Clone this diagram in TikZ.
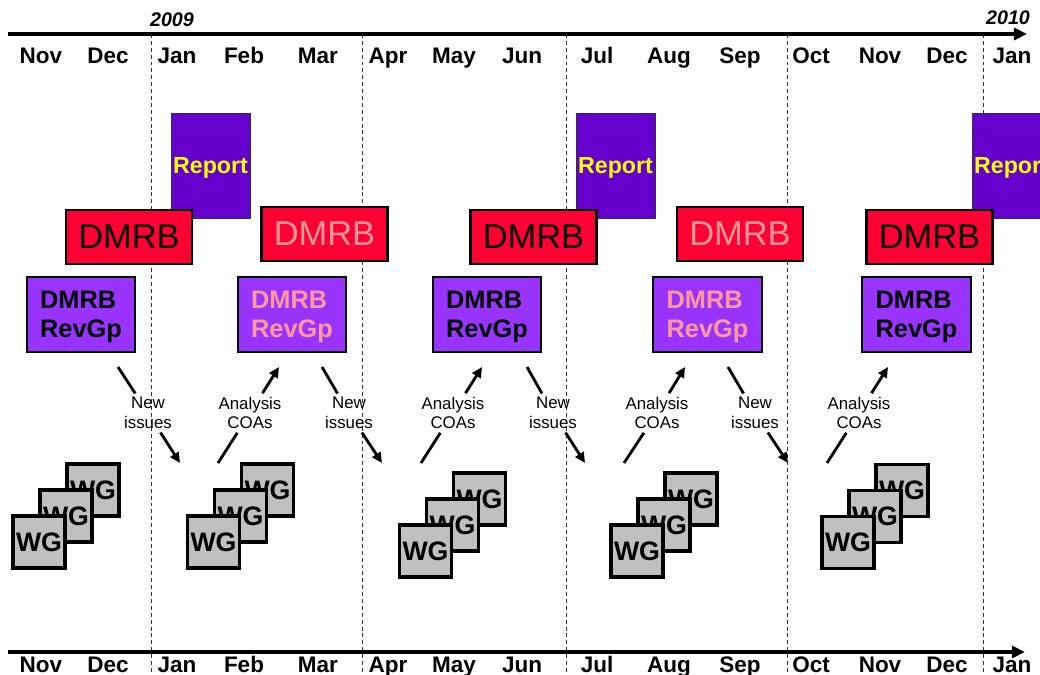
\documentclass[tikz,border=0pt]{standalone}
\usepackage{fontspec}
\setmainfont{Liberation Sans}
\usepackage{tikz}
\usetikzlibrary{arrows.meta}
\usepackage{xcolor}
\definecolor{boardred}{RGB}{255, 0, 51}
\definecolor{reportpurple}{RGB}{102, 0, 204}
\definecolor{revgpviolet}{RGB}{153, 51, 255}
\definecolor{softpink}{RGB}{255, 153, 153}
\definecolor{wggray}{RGB}{192, 192, 192}
\definecolor{reportyellow}{RGB}{255, 255, 0}

\begin{document}
\begin{tikzpicture}[x=0.025cm, y=-0.025cm, >={Triangle[length=2.6mm, width=2.4mm]},
  month/.style={anchor=base, font={\bfseries\fontsize{16}{19}\selectfont}},
  year/.style={anchor=base, font={\bfseries\itshape\fontsize{14}{17}\selectfont}},
  report/.style={draw=black!80, thin, fill=reportpurple, text=reportyellow, inner sep=0pt, text depth=0pt,
    minimum width=1.975cm, minimum height=2.625cm, font={\bfseries\fontsize{16.5}{20}\selectfont}},
  board/.style={draw=black, line width=1.5pt, fill=boardred, inner sep=0pt,
    minimum width=3.15cm, minimum height=1.33cm, font={\fontsize{24.5}{29}\selectfont}},
  revgp/.style={draw=black, line width=1.5pt, fill=revgpviolet, align=left, inner sep=0pt, text depth=0pt,
    minimum width=2.72cm, minimum height=1.88cm, font={\bfseries\fontsize{18}{20.5}\selectfont}},
  wg/.style={draw=black, line width=2.6pt, fill=wggray, inner sep=0pt,
    minimum size=1.3cm, font={\bfseries\fontsize{19}{22}\selectfont}},
  note/.style={align=center, inner sep=2.5pt, font={\fontsize{12}{14}\selectfont}},
  flow/.style={line width=2pt},
  axis/.style={line width=2.8pt, -{Triangle[length=3.3mm, width=3mm]}},
]

  \useasboundingbox (0,0) rectangle (1040,675);

  % quarter boundaries
  \foreach \x in {151,362,566,787,983}
    \draw[black!80, line width=0.7pt, dash pattern=on 2.8pt off 2.1pt] (\x,34) -- (\x,675);

  % time axes
  \draw[axis] (8,34) -- (1027,34);
  \draw[axis] (8,652) -- (1025,652);

  \node[year] (y2009) at (172,27) {2009};
  \node[year] (y2010) at (1008,25) {2010};

  % months, top and bottom
  \foreach \x/\m [count=\i] in {41/Nov,108/Dec,177/Jan,244/Feb,318/Mar,388/Apr,454/May,522/Jun,
      597/Jul,669/Aug,740/Sep,811/Oct,880/Nov,947/Dec,1012/Jan} {
    \node[month] (mtop\i) at (\x,64) {\m};
    \node[month] (mbot\i) at (\x,672) {\m};
  }

  % reports
  \node[report] (rep1) at (210.5,165.5) {Report};
  \node[report] (rep2) at (615.5,165.5) {Report};
  \node[report] (rep3) at (1011.5,165.5) {Report};

  % board meetings
  \node[board] (board1) at (129,237) {DMRB};
  \node[board, text=softpink] (board2) at (324.5,234) {DMRB};
  \node[board] (board3) at (533.5,237) {DMRB};
  \node[board, text=softpink] (board4) at (740,234) {DMRB};
  \node[board] (board5) at (929.5,237) {DMRB};

  % review groups
  \node[revgp] (rev1) at (81,314.5) {DMRB\\RevGp};
  \node[revgp, text=softpink] (rev2) at (292,314.5) {DMRB\\RevGp};
  \node[revgp] (rev3) at (487,314.5) {DMRB\\RevGp};
  \node[revgp, text=softpink] (rev4) at (707.5,314.5) {DMRB\\RevGp};
  \node[revgp] (rev5) at (916.5,314.5) {DMRB\\RevGp};

  % new issues going down
  \foreach \i/\lx/\sx/\ex in {1/148/118/180, 2/349/322/382, 3/553/527/585, 4/755/728/788} {
    \node[note] (new\i) at (\lx,413) {New\\issues};
    \coordinate (newtop\i) at (\sx,367);
    \coordinate (newend\i) at (\ex,463);
    \draw[flow] (newtop\i) -- (new\i);
    \draw[flow, ->] (new\i) -- (newend\i);
  }

  % analysis going up
  \foreach \i/\lx/\sx/\ex in {1/250/218/279, 2/453/421/482, 3/657/624/685, 4/859/827/888} {
    \node[note] (coa\i) at (\lx,413) {Analysis\\COAs};
    \coordinate (coalow\i) at (\sx,463);
    \coordinate (coaend\i) at (\ex,367);
    \draw[flow] (coalow\i) -- (coa\i);
    \draw[flow, ->] (coa\i) -- (coaend\i);
  }

  % working group stacks
  \foreach \i/\x/\y in {1/39/542, 2/213.5/542, 3/425.5/551, 4/637/551, 5/848/542.5} {
    \node[wg] (wgback\i) at ({\x+54},{\y-52}) {WG};
    \node[wg] (wgmid\i) at ({\x+27},{\y-26}) {WG};
    \node[wg] (wgfront\i) at (\x,\y) {WG};
  }

\end{tikzpicture}
\end{document}
